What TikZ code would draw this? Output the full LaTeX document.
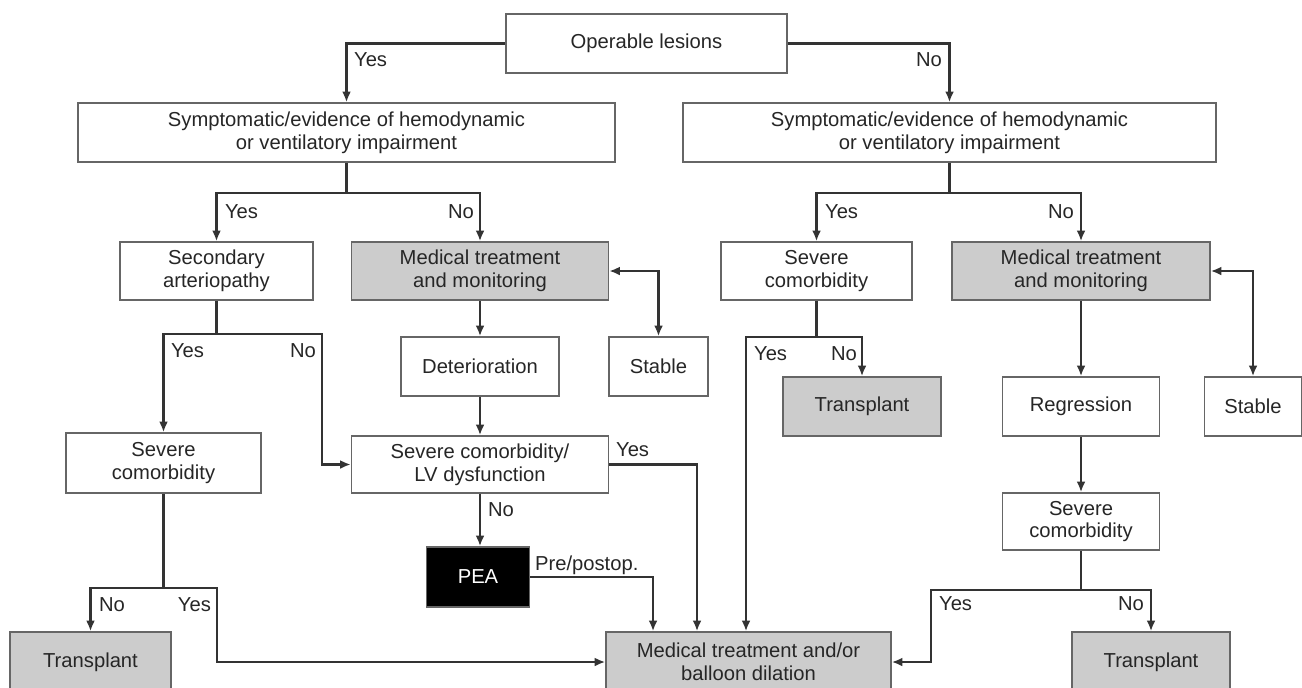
\documentclass[tikz,border=0pt]{standalone}
\usepackage{fontspec}
\setmainfont{Liberation Sans}
\usetikzlibrary{arrows.meta,calc}

\tikzset{
  box/.style={draw=black!60, line width=0.9pt, fill=white, align=center,
    inner sep=2pt, text=black!85, font=\fontsize{11.5}{13}\selectfont},
  gbox/.style={box, fill=black!20},
  link/.style={draw=black!80, line width=1.4pt},
  flow/.style={link, -{Latex[length=6pt,width=5pt]}},
  dflow/.style={link, {Latex[length=6pt,width=5pt]}-{Latex[length=6pt,width=5pt]}},
  lbl/.style={inner sep=1pt, text=black!85, font=\fontsize{11.5}{13}\selectfont},
}

\begin{document}
\begin{tikzpicture}[x=0.02cm, y=-0.02cm, line join=miter]
  \clip (0,0) rectangle (1302,687);

  % --- boxes ---
  \node[box, minimum width=5.62cm, minimum height=1.18cm] (op) at (646.5,43.5) {Operable lesions};
  \node[box, minimum width=10.74cm, minimum height=1.18cm] (symL) at (346.5,132.5)
       {Symptomatic/evidence of hemodynamic\\or ventilatory impairment};
  \node[box, minimum width=10.66cm, minimum height=1.18cm] (symR) at (949.5,132.5)
       {Symptomatic/evidence of hemodynamic\\or ventilatory impairment};
  \node[box, minimum width=3.86cm, minimum height=1.16cm] (sec) at (216.5,271) {Secondary\\arteriopathy};
  \node[gbox, minimum width=5.14cm, minimum height=1.16cm] (medL) at (480,271) {Medical treatment\\and monitoring};
  \node[box, minimum width=3.82cm, minimum height=1.16cm] (sevR) at (816.5,271) {Severe\\comorbidity};
  \node[gbox, minimum width=5.16cm, minimum height=1.16cm] (medR) at (1081,271) {Medical treatment\\and monitoring};
  \node[box, minimum width=3.16cm, minimum height=1.18cm] (det) at (480,366.5) {Deterioration};
  \node[box, minimum width=1.98cm, minimum height=1.18cm] (stabL) at (658.5,366.5) {Stable};
  \node[gbox, minimum width=3.16cm, minimum height=1.18cm] (tpM) at (862,406.5) {Transplant};
  \node[box, minimum width=3.14cm, minimum height=1.18cm] (reg) at (1081,406.5) {Regression};
  \node[box, minimum width=1.94cm, minimum height=1.18cm] (stabR) at (1253,406.5) {Stable};
  \node[box, minimum width=5.14cm, minimum height=1.14cm] (sevLV) at (480,464.5)
       {Severe comorbidity/\\LV dysfunction};
  \node[box, minimum width=3.9cm, minimum height=1.2cm] (sevL) at (163.5,463) {Severe\\comorbidity};
  \node[box, minimum width=3.14cm, minimum height=1.14cm] (sevR2) at (1081,521.5) {Severe\\comorbidity};
  \node[box, fill=black, text=white, minimum width=2.06cm, minimum height=1.2cm] (pea) at (478,577) {PEA};
  \node[gbox, minimum width=3.22cm, minimum height=1.2cm] (tpL) at (90.5,662) {Transplant};
  \node[gbox, minimum width=5.7cm, minimum height=1.2cm] (bal) at (748.5,662)
       {Medical treatment and/or\\balloon dilation};
  \node[gbox, minimum width=3.16cm, minimum height=1.2cm] (tpR) at (1151,662) {Transplant};

  % --- top split ---
  \draw[flow] (op.west) -| (symL.north);
  \node[lbl, anchor=west] (yOp) at (352,60) {Yes};
  \draw[flow] (op.east) -| (symR.north);
  \node[lbl, anchor=east] (nOp) at (944,60) {No};

  % --- left branch ---
  \coordinate (jSymL) at (346.5,193);
  \draw[link] (symL.south) -- (jSymL);
  \draw[flow] (jSymL) -| (sec.north);
  \draw[flow] (jSymL) -| (medL.north);
  \node[lbl, anchor=west] (ySymL) at (223,212) {Yes};
  \node[lbl, anchor=east] (nSymL) at (476,212) {No};

  \coordinate (jSec) at (216.5,334);
  \coordinate (cSecNo) at (322,334);
  \draw[link] (sec.south) -- (jSec);
  \draw[flow] (jSec) -| (sevL.north);
  \draw[flow] (jSec) -- (cSecNo) |- (sevLV.west);
  \node[lbl, anchor=west] (ySec) at (169,351) {Yes};
  \node[lbl, anchor=east] (nSec) at (318,351) {No};

  \draw[flow] (medL.south) -- (det.north);
  \draw[flow] (det.south) -- (sevLV.north);
  \draw[dflow] (medL.east) -| (stabL.north);

  \draw[flow] (sevLV.east) -| ([xshift=-1.03cm]bal.north);
  \node[lbl, anchor=west] (ySevLV) at (614,450) {Yes};
  \draw[flow] (sevLV.south) -- (sevLV.south |- pea.north);
  \node[lbl, anchor=west] (nSevLV) at (486,510) {No};
  \draw[flow] (pea.east) -| ([xshift=-1.91cm]bal.north);
  \node[lbl, anchor=west] (lPea) at (533,565) {Pre/postop.};

  \coordinate (jSevL) at (163.5,588);
  \coordinate (cSevLYes) at (217,588);
  \draw[link] (sevL.south) -- (jSevL);
  \draw[flow] (jSevL) -| (tpL.north);
  \draw[flow] (jSevL) -- (cSevLYes) |- (bal.west);
  \node[lbl, anchor=west] (nSevL) at (97,605) {No};
  \node[lbl, anchor=east] (ySevL) at (213,605) {Yes};

  % --- right branch ---
  \coordinate (jSymR) at (949.5,193);
  \draw[link] (symR.south) -- (jSymR);
  \draw[flow] (jSymR) -| (sevR.north);
  \draw[flow] (jSymR) -| (medR.north);
  \node[lbl, anchor=west] (ySymR) at (823,212) {Yes};
  \node[lbl, anchor=east] (nSymR) at (1076,212) {No};

  \coordinate (jSevR) at (816.5,337);
  \coordinate (cSevRYes) at (746,337);
  \draw[link] (sevR.south) -- (jSevR);
  \draw[flow] (jSevR) -| (tpM.north);
  \draw[flow] (jSevR) -- (cSevRYes) -- (cSevRYes |- bal.north);
  \node[lbl, anchor=west] (ySevR) at (752,354) {Yes};
  \node[lbl, anchor=east] (nSevR) at (859,354) {No};

  \draw[flow] (medR.south) -- (reg.north);
  \draw[flow] (reg.south) -- (sevR2.north);
  \draw[dflow] (medR.east) -| (stabR.north);

  \coordinate (jSevR2) at (1081,590);
  \coordinate (cSevR2Yes) at (931,590);
  \draw[link] (sevR2.south) -- (jSevR2);
  \draw[flow] (jSevR2) -| (tpR.north);
  \draw[flow] (jSevR2) -- (cSevR2Yes) |- (bal.east);
  \node[lbl, anchor=west] (ySevR2) at (937,604) {Yes};
  \node[lbl, anchor=east] (nSevR2) at (1146,604) {No};
\end{tikzpicture}
\end{document}
